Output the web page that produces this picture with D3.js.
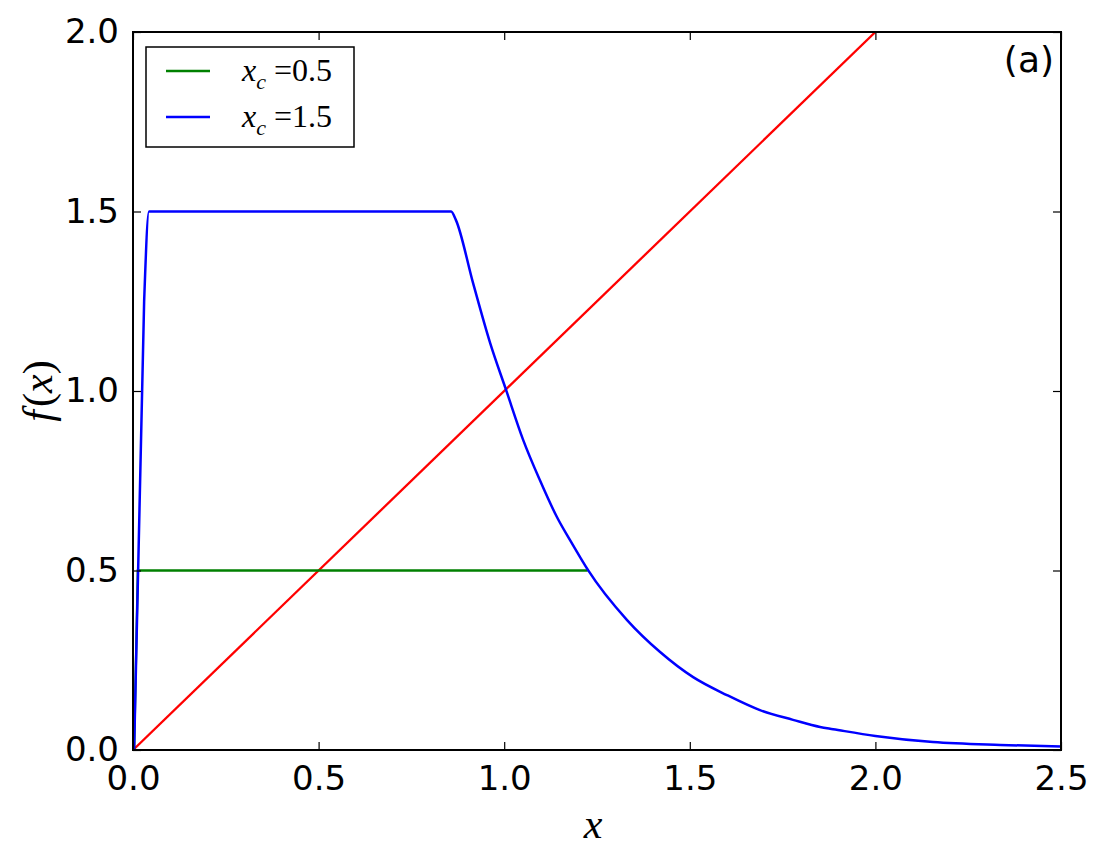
<!DOCTYPE html>
<html>
<head>
<meta charset="utf-8">
<script src="https://cdn.jsdelivr.net/npm/d3@7"></script>
<style>
  body { margin: 0; background: #fff; }
  svg text { fill: #000; }
</style>
</head>
<body>
<svg id="chart" width="1103" height="865"></svg>
<script>
// f(x) panel (a)

var xTicks = [0, 0.5, 1.0, 1.5, 2.0, 2.5];
var yTicks = [0, 0.5, 1.0, 1.5, 2.0];

// red reference line f(x) = x
var redX = [0, 2.0];
var redY = [0, 2.0];

// x_c = 0.5 (green)
var greenX = [0.003, 0.013, 1.225];
var greenY = [0, 0.5, 0.5];

// x_c = 1.5 (blue)
var blueX = [0.003, 0.030, 0.043, 0.857, 0.870, 0.916, 0.962, 1.005, 1.051, 1.096, 1.142, 1.177,
             1.204, 1.226, 1.331, 1.420, 1.509, 1.600, 1.689, 1.778, 1.851, 1.886, 2.0, 2.155,
             2.336, 2.5];
var blueY = [0, 1.25, 1.5, 1.5, 1.476, 1.301, 1.134, 1.003, 0.864, 0.752, 0.649, 0.585,
             0.538, 0.501, 0.362, 0.273, 0.203, 0.153, 0.111, 0.084, 0.064, 0.058, 0.039, 0.022,
             0.014, 0.010];

var legendLabels = ["0.5", "1.5"];
var legendColors = ["#008000", "#0000ff"];

var margin = {left: 133, right: 42, top: 32, bottom: 115};
var width = 1103 - margin.left - margin.right;
var height = 865 - margin.top - margin.bottom;

var svg = d3.select("#chart");
var g = svg.append("g").attr("transform", "translate(" + margin.left + "," + margin.top + ")");

var x = d3.scaleLinear().domain([0, 2.5]).range([0, width]);
var y = d3.scaleLinear().domain([0, 2.0]).range([height, 0]);

svg.append("defs").append("clipPath").attr("id", "clip")
  .append("rect").attr("width", width).attr("height", height);

var zip = function (xs, ys) {
  return xs.map(function (d, i) { return [d, ys[i]]; });
};

var line = d3.line()
  .x(function (d) { return x(d[0]); })
  .y(function (d) { return y(d[1]); });

var plot = g.append("g").attr("clip-path", "url(#clip)");

plot.append("path").datum(zip(redX, redY))
  .attr("d", line).attr("fill", "none").attr("stroke", "#ff0000").attr("stroke-width", 2.3);
plot.append("path").datum(zip(greenX, greenY))
  .attr("d", line).attr("fill", "none").attr("stroke", "#008000").attr("stroke-width", 2.3);
// smooth between read points; monotone keeps the plateau flat
plot.append("path").datum(zip(blueX, blueY))
  .attr("d", line.curve(d3.curveMonotoneX)).attr("fill", "none").attr("stroke", "#0000ff")
  .attr("stroke-width", 2.5).attr("stroke-linejoin", "round");

// axes: ticks inward on all four sides
var fmt = d3.format(".1f");
var tickLen = 8;

var xBottom = g.append("g").attr("transform", "translate(0," + height + ")")
  .call(d3.axisBottom(x).tickValues(xTicks).tickFormat(fmt).tickSizeInner(-tickLen).tickSizeOuter(0).tickPadding(16));
var xTop = g.append("g")
  .call(d3.axisTop(x).tickValues(xTicks).tickFormat("").tickSizeInner(-tickLen).tickSizeOuter(0));
var yLeft = g.append("g")
  .call(d3.axisLeft(y).tickValues(yTicks).tickFormat(fmt).tickSizeInner(-tickLen).tickSizeOuter(0).tickPadding(14));
var yRight = g.append("g").attr("transform", "translate(" + width + ",0)")
  .call(d3.axisRight(y).tickValues(yTicks).tickFormat("").tickSizeInner(-tickLen).tickSizeOuter(0));

[xBottom, xTop, yLeft, yRight].forEach(function (ax) {
  ax.select(".domain").remove();
  ax.selectAll(".tick line").attr("stroke", "#000").attr("stroke-width", 1.2);
  ax.selectAll(".tick text")
    .attr("font-family", "DejaVu Sans")
    .attr("font-size", 34)
    .attr("fill", "#000");
});

// frame
g.append("rect").attr("width", width).attr("height", height)
  .attr("fill", "none").attr("stroke", "#000").attr("stroke-width", 2);

// axis labels
svg.append("text")
  .attr("x", margin.left + width / 2 - 4).attr("y", 838)
  .attr("text-anchor", "middle")
  .attr("font-family", "Liberation Serif").attr("font-style", "italic").attr("font-size", 42)
  .text("x");

var ylab = svg.append("text")
  .attr("transform", "translate(52," + (margin.top + height / 2) + ") rotate(-90)")
  .attr("text-anchor", "middle")
  .attr("font-family", "Liberation Serif").attr("font-size", 42);
ylab.append("tspan").attr("font-style", "italic").text("f");
ylab.append("tspan").attr("dx", 3).text("(");
ylab.append("tspan").attr("font-style", "italic").text("x");
ylab.append("tspan").text(")");

// panel tag
g.append("text")
  .attr("x", width - 7).attr("y", 40)
  .attr("text-anchor", "end")
  .attr("font-family", "DejaVu Sans").attr("font-size", 36)
  .text("(a)");

// legend
var legend = g.append("g").attr("transform", "translate(13,15)");
legend.append("rect").attr("width", 208).attr("height", 100)
  .attr("fill", "#fff").attr("stroke", "#000").attr("stroke-width", 1.5);

var items = legend.selectAll("g.item").data(legendLabels).enter().append("g")
  .attr("class", "item")
  .attr("transform", function (d, i) { return "translate(0," + (24 + i * 46) + ")"; });

items.append("line")
  .attr("x1", 20).attr("x2", 64)
  .attr("stroke", function (d, i) { return legendColors[i]; })
  .attr("stroke-width", 2.3);

var lt = items.append("text")
  .attr("x", 96).attr("y", 10)
  .attr("font-family", "Liberation Serif").attr("font-size", 32);
lt.append("tspan").attr("font-style", "italic").text("x");
lt.append("tspan").attr("font-style", "italic").attr("font-size", 22).attr("dy", 8).text("c");
lt.append("tspan").attr("dy", -8).attr("dx", 8).text(function (d) { return "=" + d; });
</script>
</body>
</html>
